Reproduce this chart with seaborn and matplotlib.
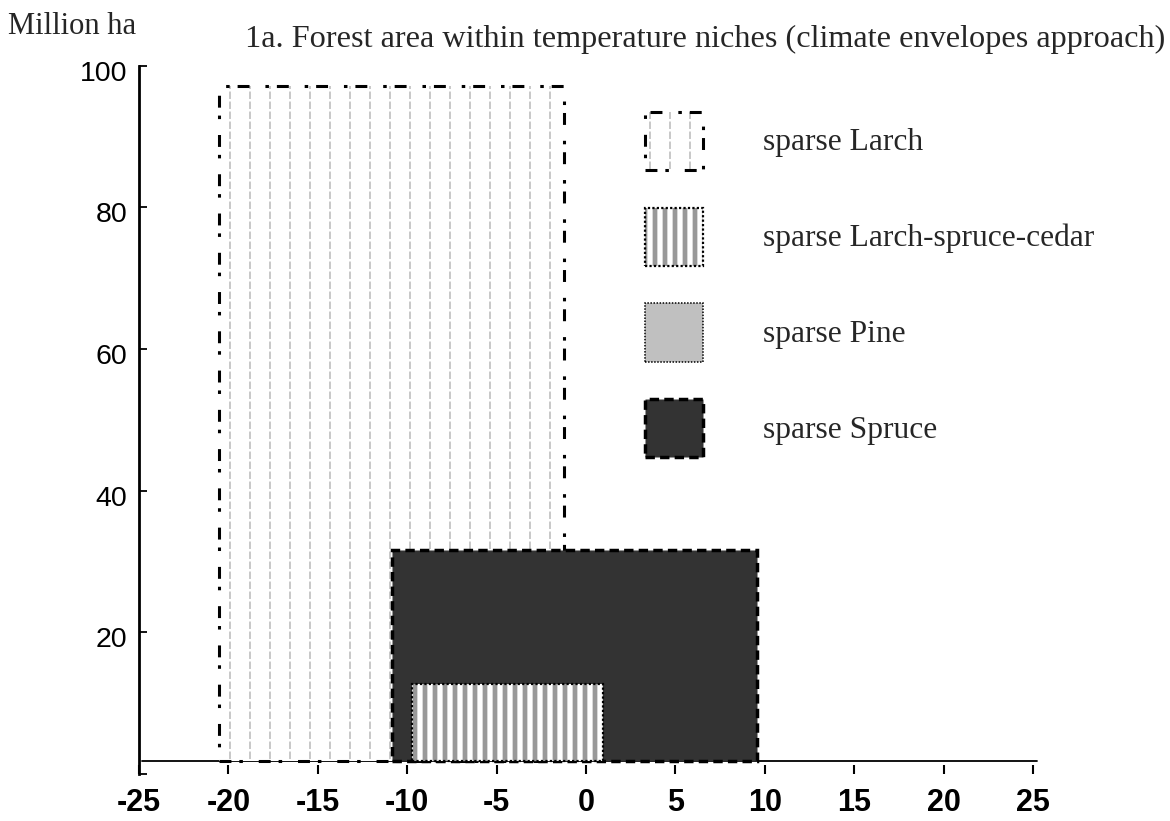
import warnings
import numpy as np
import matplotlib
matplotlib.use("Agg")
import matplotlib.pyplot as plt
import matplotlib.hatch as mhatch
import matplotlib.patches as mpatches
from matplotlib.path import Path
from matplotlib.transforms import ScaledTranslation
import seaborn as sns

warnings.filterwarnings("ignore")

# data (temperature niche in deg C, area in million ha)
species = ["sparse Larch", "sparse Larch-spruce-cedar", "sparse Pine", "sparse Spruce"]
niche_low = [-20.55, -9.75, np.nan, -10.85]
niche_high = [-1.25, 0.95, np.nan, 9.55]
area_top = [97.1, 12.7, np.nan, 31.7]

xticks = [-25, -20, -15, -10, -5, 0, 5, 10, 15, 20, 25]
yticks = [0, 20, 40, 60, 80, 100]
ytick_labels = ["", "20", "40", "60", "80", "100"]

title = "1a. Forest area within temperature niches (climate envelopes approach)"
ylabel = "Million ha"

BASE = 1.9  # the x axis line sits slightly above zero


# two custom fills: short gray dashes (larch) and thick vertical stripes (cedar mix)
class DashColumns(mhatch.HatchPatternBase):
    def __init__(self, hatch, density):
        self.ncol, self.nrow = 5, 10
        self.num_vertices = 2 * self.ncol * self.nrow if "v" in hatch else 0

    def set_vertices_and_codes(self, vertices, codes):
        gx, gy = np.meshgrid((np.arange(self.ncol) + 0.5) / self.ncol,
                             np.arange(self.nrow) / self.nrow + 0.02)
        gx, gy = gx.ravel(), gy.ravel()
        vertices[0::2, 0] = gx
        vertices[0::2, 1] = gy
        vertices[1::2, 0] = gx
        vertices[1::2, 1] = gy + 0.055
        codes[0::2] = Path.MOVETO
        codes[1::2] = Path.LINETO


class ThickStripes(mhatch.HatchPatternBase):
    def __init__(self, hatch, density):
        self.xs = (np.arange(10) + 0.5)[:, None] / 10 + np.array([-0.014, 0, 0.014])
        self.xs = self.xs.ravel()
        self.num_vertices = 2 * len(self.xs) if "s" in hatch else 0

    def set_vertices_and_codes(self, vertices, codes):
        vertices[0::2, 0] = self.xs
        vertices[0::2, 1] = 0.0
        vertices[1::2, 0] = self.xs
        vertices[1::2, 1] = 1.0
        codes[0::2] = Path.MOVETO
        codes[1::2] = Path.LINETO


mhatch._hatch_types.extend([DashColumns, ThickStripes])

styles = {
    "sparse Larch": dict(face="white", hatch="v", hcolor="#c8c8c8",
                         ls=(0, (3.9, 2.6, 1.15, 5.2)), lw=2.2, z=2),
    "sparse Larch-spruce-cedar": dict(face="white", hatch="s", hcolor="#999999",
                                      ls=(0, (1, 1)), lw=1.6, z=4),
    "sparse Pine": dict(face="#c0c0c0", hatch=None, hcolor=None,
                        ls=(0, (1, 1)), lw=1.1, z=1),
    "sparse Spruce": dict(face="#333333", hatch=None, hcolor=None,
                          ls=(0, (2.7, 1.5)), lw=2.5, z=3),
}

sns.set_theme(style="ticks")
plt.rcParams["font.family"] = ["Liberation Sans", "DejaVu Sans"]
plt.rcParams["hatch.linewidth"] = 1.4

fig = plt.figure(figsize=(11.7, 8.21), dpi=100)
ax = fig.add_axes([0.1188, 0.0572, 0.7641, 0.8627])

handles = []
for name, lo, hi, top in zip(species, niche_low, niche_high, area_top):
    st = styles[name]
    if st["hatch"]:
        fill = mpatches.Patch(facecolor=st["face"], edgecolor=st["hcolor"],
                              hatch=st["hatch"], linewidth=0)
        edge = mpatches.Patch(fill=False, edgecolor="black",
                              linestyle=st["ls"], linewidth=st["lw"])
        handles.append((fill, edge))
    else:
        handles.append(mpatches.Patch(facecolor=st["face"], edgecolor="black",
                                      linestyle=st["ls"], linewidth=st["lw"]))
    if np.isnan(top):
        continue
    if st["hatch"]:
        ax.bar(lo, top - BASE, width=hi - lo, bottom=BASE, align="edge",
               color=st["face"], edgecolor=st["hcolor"], hatch=st["hatch"],
               linewidth=0, zorder=st["z"])
        ax.bar(lo, top - BASE, width=hi - lo, bottom=BASE, align="edge",
               fill=False, edgecolor="black", linestyle=st["ls"],
               linewidth=st["lw"], zorder=st["z"] + 0.1)
    else:
        ax.bar(lo, top - BASE, width=hi - lo, bottom=BASE, align="edge",
               color=st["face"], edgecolor="black", linestyle=st["ls"],
               linewidth=st["lw"], zorder=st["z"])

ax.axhline(BASE, xmin=0.003, xmax=1.004, color="black", lw=1.3, zorder=0.5,
           clip_on=False)

ax.set_xlim(-25, 25)
ax.set_ylim(0, 100)
ax.set_xticks(xticks)
ax.set_xticklabels([str(t) for t in xticks], fontweight="bold", fontsize=22)
ax.set_yticks(yticks)
ax.set_yticklabels(ytick_labels, fontsize=20.5)
ax.tick_params(axis="x", direction="in", length=6.5, width=1.5, pad=10,
               colors="black")
ax.tick_params(axis="y", direction="in", length=5.8, width=1.3, pad=8.5,
               colors="black")
# labels on the y axis sit a little below their ticks in the original
shift = ScaledTranslation(0, -0.05, fig.dpi_scale_trans)
for lab in ax.get_yticklabels():
    lab.set_transform(lab.get_transform() + shift)
sns.despine(ax=ax, top=True, right=True, bottom=True)
ax.spines["left"].set_linewidth(2.0)
ax.spines["left"].set_color("black")
ax.grid(False)

serif = ["Liberation Serif", "DejaVu Serif"]
fig.text(245 / 1170, 1 - 39 / 821, title, family=serif, fontsize=23.2,
         ha="left", va="center")
fig.text(8 / 1170, 1 - 26 / 821, ylabel, family=serif, fontsize=22,
         ha="left", va="center")

fig.legend(handles, species, loc="upper left",
           bbox_to_anchor=(645 / 1170, 1 - 111.7 / 821), frameon=False,
           borderpad=0, borderaxespad=0, handlelength=1.84, handleheight=2.456,
           handletextpad=1.9, labelspacing=1.2,
           prop=dict(family=serif, size=22.7))

fig.savefig("out.png", dpi=100)
